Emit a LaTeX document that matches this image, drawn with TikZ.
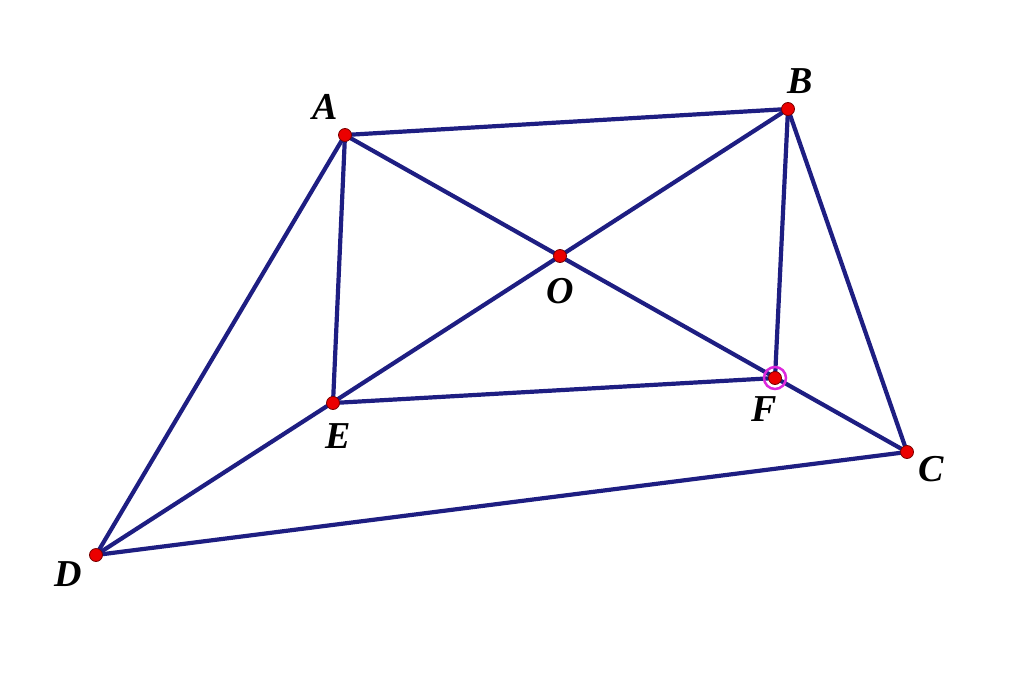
\documentclass[tikz,border=0pt]{standalone}
\usepackage{fontspec}
\setmainfont{Liberation Serif}
\definecolor{navyline}{RGB}{30,30,130}
\definecolor{ptred}{RGB}{235,0,0}
\definecolor{ptedge}{RGB}{120,0,0}
\definecolor{ringmag}{RGB}{220,40,220}
\begin{document}
\begin{tikzpicture}[x=1pt,y=-1pt,
  seg/.style={draw=navyline,line width=4.2pt,line cap=round},
  pt/.style={circle,fill=ptred,draw=ptedge,line width=0.8pt,inner sep=0pt,minimum size=13pt},
  lab/.style={font=\fontsize{38}{38}\selectfont\bfseries\itshape,inner sep=0pt}]
\useasboundingbox (0,0) rectangle (1024,677);
\coordinate (A) at (345,135);
\coordinate (B) at (788,109);
\coordinate (O) at (560,256);
\coordinate (E) at (333,403);
\coordinate (F) at (775,378);
\coordinate (C) at (907,452);
\coordinate (D) at (96,555);
\draw[seg] (A) -- (B);
\draw[seg] (A) -- (D);
\draw[seg] (A) -- (E);
\draw[seg] (A) -- (C);
\draw[seg] (B) -- (D);
\draw[seg] (B) -- (F);
\draw[seg] (B) -- (C);
\draw[seg] (E) -- (F);
\draw[seg] (D) -- (C);
\draw[draw=ringmag,line width=2.5pt] (F) circle (11pt);
\foreach \p in {A,B,O,E,F,C,D} \node[pt] (p\p) at (\p) {};
\node[lab] (lA) at (325,107) {A};
\node[lab] (lB) at (800,81) {B};
\node[lab] (lO) at (560,291) {O};
\node[lab] (lE) at (338,436) {E};
\node[lab] (lF) at (764,409) {F};
\node[lab] (lC) at (931,469) {C};
\node[lab] (lD) at (68,574) {D};
\end{tikzpicture}
\end{document}
